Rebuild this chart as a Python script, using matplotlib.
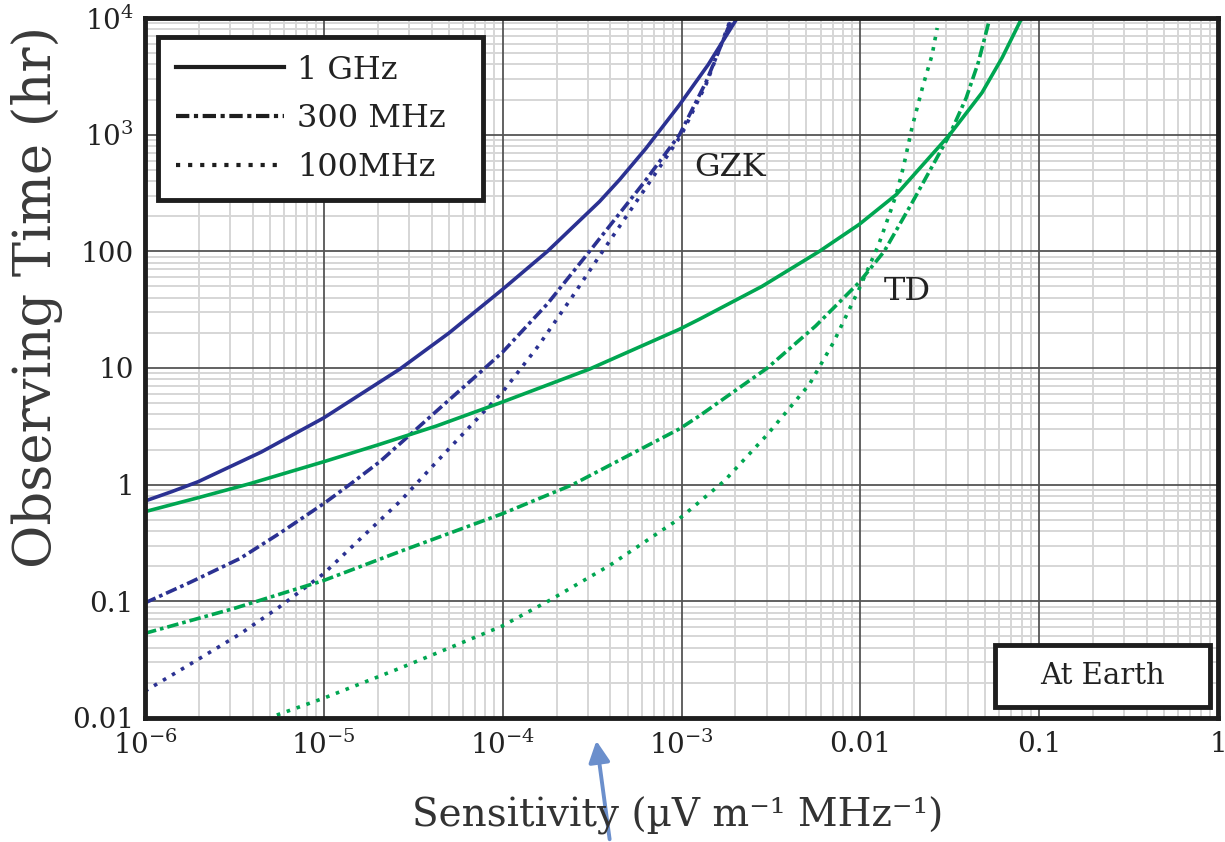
import matplotlib
matplotlib.use('Agg')
import matplotlib.pyplot as plt
from matplotlib.lines import Line2D
from matplotlib.patches import FancyArrowPatch, Rectangle
from matplotlib.ticker import LogLocator, NullFormatter

plt.rcParams['font.family'] = ['DejaVu Serif', 'DejaVu Sans']
plt.rcParams['mathtext.fontset'] = 'dejavuserif'

# ---------------- data ----------------
gzk_1ghz_x = [1e-6, 1.41e-6, 1.98e-6, 4.47e-6, 1e-5, 2.66e-5, 5.01e-5, 1e-4, 1.78e-4, 3.48e-4,
              4.51e-4, 6.31e-4, 9.75e-4, 1.41e-3, 2.05e-3]
gzk_1ghz_y = [0.724, 0.871, 1.059, 1.905, 3.74, 9.79, 19.95, 47.3, 100, 267,
              412, 759, 1803, 3981, 1.0e4]

gzk_300_x = [1e-6, 1.78e-6, 3.40e-6, 5.62e-6, 1e-5, 1.41e-5, 2.06e-5, 4.28e-5, 7.45e-5, 1e-4,
             1.78e-4, 3.06e-4, 6.17e-4, 9.75e-4, 1.38e-3, 1.92e-3]
gzk_300_y = [0.097, 0.145, 0.233, 0.380, 0.689, 1.014, 1.578, 4.29, 9.12, 13.7,
             35.5, 100, 389, 1000, 2884, 1.0e4]

gzk_100_x = [1e-6, 1.78e-6, 3.40e-6, 5.62e-6, 1e-5, 1.585e-5, 2.66e-5, 4.28e-5, 1e-4, 1.585e-4,
             2.46e-4, 3.62e-4, 6.61e-4, 1e-3, 1.38e-3, 1.87e-3]
gzk_100_y = [0.017, 0.0288, 0.0525, 0.0891, 0.173, 0.339, 0.716, 1.574, 6.24, 15.5,
             41.2, 100, 389, 1000, 2754, 9500]

td_1ghz_x = [1e-6, 2.0e-6, 3.86e-6, 1e-5, 2.0e-5, 4.28e-5, 1e-4, 3.06e-4, 9.75e-4, 1.26e-3,
             2.82e-3, 5.90e-3, 9.86e-3, 1.59e-2, 3.16e-2, 4.79e-2, 6.21e-2, 8.0e-2]
td_1ghz_y = [0.587, 0.776, 1.02, 1.574, 2.188, 3.19, 5.12, 9.79, 21.5, 26.2,
             50.1, 100, 170.2, 306.9, 1000, 2291, 4571, 1.0e4]

td_300_x = [1e-6, 3.16e-6, 1e-5, 2.66e-5, 1e-4, 2.46e-4, 9.75e-4, 1.26e-3, 3.02e-3, 5.62e-3,
            9.86e-3, 1.36e-2, 1.95e-2, 3.16e-2, 3.91e-2, 4.57e-2, 5.3e-2]
td_300_y = [0.0532, 0.0871, 0.151, 0.267, 0.565, 1.0, 3.01, 3.89, 10, 22.9,
            54.3, 100, 262, 1000, 2070, 4169, 1.0e4]

td_100_x = [5.46e-6, 1e-5, 2.66e-5, 4.28e-5, 9.86e-5, 1.83e-4, 3.98e-4, 9.75e-4, 1.74e-3, 3.02e-3,
            5.19e-3, 7.08e-3, 9.86e-3, 1.26e-2, 1.48e-2, 1.59e-2, 1.74e-2, 1.95e-2, 2.24e-2,
            2.52e-2, 2.69e-2]
td_100_y = [0.0106, 0.0148, 0.0267, 0.036, 0.0611, 0.102, 0.204, 0.512, 1.08, 2.69,
            7.24, 16.6, 47.9, 112, 224, 309, 525, 1170, 2630,
            4831, 8222]

x_tick_values = [1e-6, 1e-5, 1e-4, 1e-3, 1e-2, 1e-1, 1]
x_tick_labels = [r'$10^{-6}$', r'$10^{-5}$', r'$10^{-4}$', r'$10^{-3}$', '0.01', '0.1', '1']
y_tick_values = [1e-2, 1e-1, 1, 10, 100, 1e3, 1e4]
y_tick_labels = ['0.01', '0.1', '1', '10', '100', r'$10^{3}$', r'$10^{4}$']

legend_labels = ['1 GHz', '300 MHz', '100MHz']

# ---------------- styles ----------------
BLUE = '#2b3192'
GREEN = '#00a651'
LW = 2.6
DASHDOT = (0, (3.2, 1.1, 1.0, 1.1))
DOTTED = (0, (1.0, 1.9))
INK = '#1e1e1e'

fig = plt.figure(figsize=(12.25, 8.42), dpi=100)
ax = fig.add_axes([145 / 1225, 1 - 718 / 842, (1218 - 145) / 1225, (718 - 18) / 842])
ax.set_xscale('log')
ax.set_yscale('log')
ax.set_xlim(1e-6, 1)
ax.set_ylim(0.01, 1e4)

ax.xaxis.set_minor_locator(LogLocator(base=10, subs=range(2, 10), numticks=20))
ax.yaxis.set_minor_locator(LogLocator(base=10, subs=range(2, 10), numticks=20))
ax.xaxis.set_minor_formatter(NullFormatter())
ax.yaxis.set_minor_formatter(NullFormatter())
ax.set_xticks(x_tick_values, x_tick_labels)
ax.set_yticks(y_tick_values, y_tick_labels)

ax.set_axisbelow(True)
ax.grid(which='minor', color='#d6d6d6', lw=1.4)
# major grid lines drawn on top of the minor grid
for v in x_tick_values:
    ax.axvline(v, color='#555555', lw=1.3, zorder=0.9)
for v in y_tick_values:
    ax.axhline(v, color='#555555', lw=1.3, zorder=0.9)

ax.tick_params(which='both', length=0)
ax.tick_params(axis='x', labelsize=20, pad=9, colors='#222222')
ax.tick_params(axis='y', labelsize=20, pad=8, colors='#222222')
for s in ax.spines.values():
    s.set_linewidth(3.5)
    s.set_color(INK)
    s.set_zorder(4)

ax.plot(gzk_1ghz_x, gzk_1ghz_y, color=BLUE, lw=LW, zorder=2)
ax.plot(gzk_300_x, gzk_300_y, color=BLUE, lw=LW, linestyle=DASHDOT, zorder=2)
ax.plot(gzk_100_x, gzk_100_y, color=BLUE, lw=LW, linestyle=DOTTED, zorder=2)
ax.plot(td_1ghz_x, td_1ghz_y, color=GREEN, lw=LW, zorder=2)
ax.plot(td_300_x, td_300_y, color=GREEN, lw=LW, linestyle=DASHDOT, zorder=2)
ax.plot(td_100_x, td_100_y, color=GREEN, lw=LW, linestyle=DOTTED, zorder=2)

ax.text(1.88e-3, 523, 'GZK', fontsize=23, ha='center', va='center', color='#222222')
ax.text(1.83e-2, 45.5, 'TD', fontsize=23, ha='center', va='center', color='#222222')

handles = [Line2D([], [], color=INK, lw=3, linestyle='-'),
           Line2D([], [], color=INK, lw=3, linestyle=DASHDOT),
           Line2D([], [], color=INK, lw=3, linestyle=DOTTED)]
leg = ax.legend(handles, legend_labels, loc='upper left',
                bbox_to_anchor=((158 - 145) / 1073, (718 - 198) / 700,
                                (483 - 158) / 1073, (198 - 37) / 700),
                mode='expand',
                fontsize=23, frameon=True, fancybox=False, framealpha=1,
                edgecolor=INK, handlelength=3.4, handletextpad=0.4,
                labelspacing=0.55, borderpad=0.55, borderaxespad=0)
leg.get_frame().set_linewidth(3.5)
leg.set_zorder(6)
for t in leg.get_texts():
    t.set_color('#222222')

ax.add_patch(Rectangle(((995 - 145) / 1073, (718 - 707) / 700),
                       (1210 - 995) / 1073, (707 - 645) / 700,
                       transform=ax.transAxes, fc='white', ec=INK, lw=3.5, zorder=5))
ax.text(((995 + 1210) / 2 - 145) / 1073, (718 - 676) / 700, 'At Earth', transform=ax.transAxes,
        ha='center', va='center', fontsize=21, color='#222222', zorder=6)

fig.text(37 / 1225, 1 - 297 / 842, 'Observing Time (hr)', rotation=90, ha='center', va='center',
         fontsize=38, color='#3a3a3a')
fig.text(678 / 1225, 1 - 816 / 842, 'Sensitivity (\u00b5V m\u207b\u00b9 MHz\u207b\u00b9)',
         ha='center', va='center', fontsize=28, color='#333333')

fig.add_artist(FancyArrowPatch((610 / 1225, 0.0), (596 / 1225, 1 - 738 / 842),
                               transform=fig.transFigure, arrowstyle='-|>',
                               mutation_scale=32, color='#6b8fcc', lw=2.8))

fig.savefig('out.png', dpi=100)
